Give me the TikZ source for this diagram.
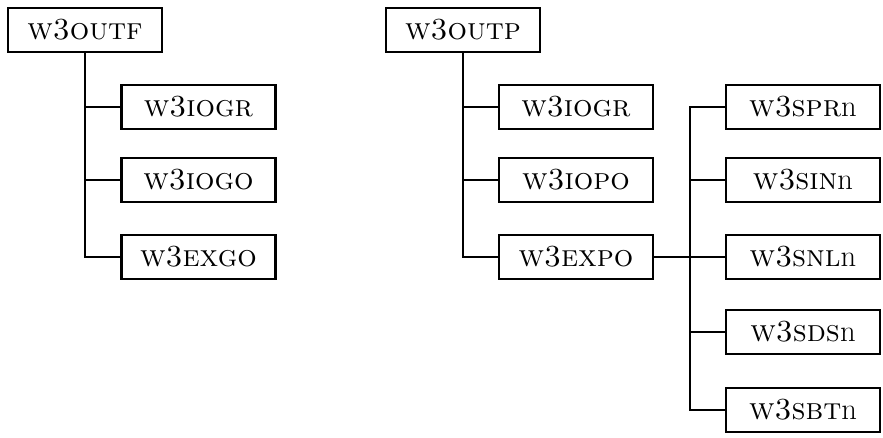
\documentclass[tikz,border=0pt]{standalone}
\begin{document}
\begin{tikzpicture}[x=0.5pt,y=-0.5pt,line width=1.2pt,
  box/.style={draw,minimum width=77pt,minimum height=22pt,inner sep=0pt,font=\fontsize{15.3}{17}\selectfont}]
\useasboundingbox (0,0) rectangle (883,438);
\node[box] (outf) at (85,30) {\textsc{w3outf}};
\node[box] (iogr1) at (198.5,107) {\textsc{w3iogr}};
\node[box] (iogo) at (198.5,180) {\textsc{w3iogo}};
\node[box] (exgo) at (198.5,257) {\textsc{w3exgo}};
\node[box] (outp) at (463,30) {\textsc{w3outp}};
\node[box] (iogr2) at (576,107) {\textsc{w3iogr}};
\node[box] (iopo) at (576,180) {\textsc{w3iopo}};
\node[box] (expo) at (576,257) {\textsc{w3expo}};
\node[box] (sprn) at (803,107) {\textsc{w3spr}n};
\node[box] (sinn) at (803,180) {\textsc{w3sin}n};
\node[box] (snln) at (803,257) {\textsc{w3snl}n};
\node[box] (sdsn) at (803,332) {\textsc{w3sds}n};
\node[box] (sbtn) at (803,410) {\textsc{w3sbt}n};
\coordinate (j) at (690,257);
\draw (outf.south) |- (iogr1.west);
\draw (outf.south) |- (iogo.west);
\draw (outf.south) |- (exgo.west);
\draw (outp.south) |- (iogr2.west);
\draw (outp.south) |- (iopo.west);
\draw (outp.south) |- (expo.west);
\draw (expo.east) -- (j);
\draw (j) |- (sprn.west);
\draw (j) |- (sinn.west);
\draw (j) -- (snln.west);
\draw (j) |- (sdsn.west);
\draw (j) |- (sbtn.west);
\end{tikzpicture}
\end{document}
